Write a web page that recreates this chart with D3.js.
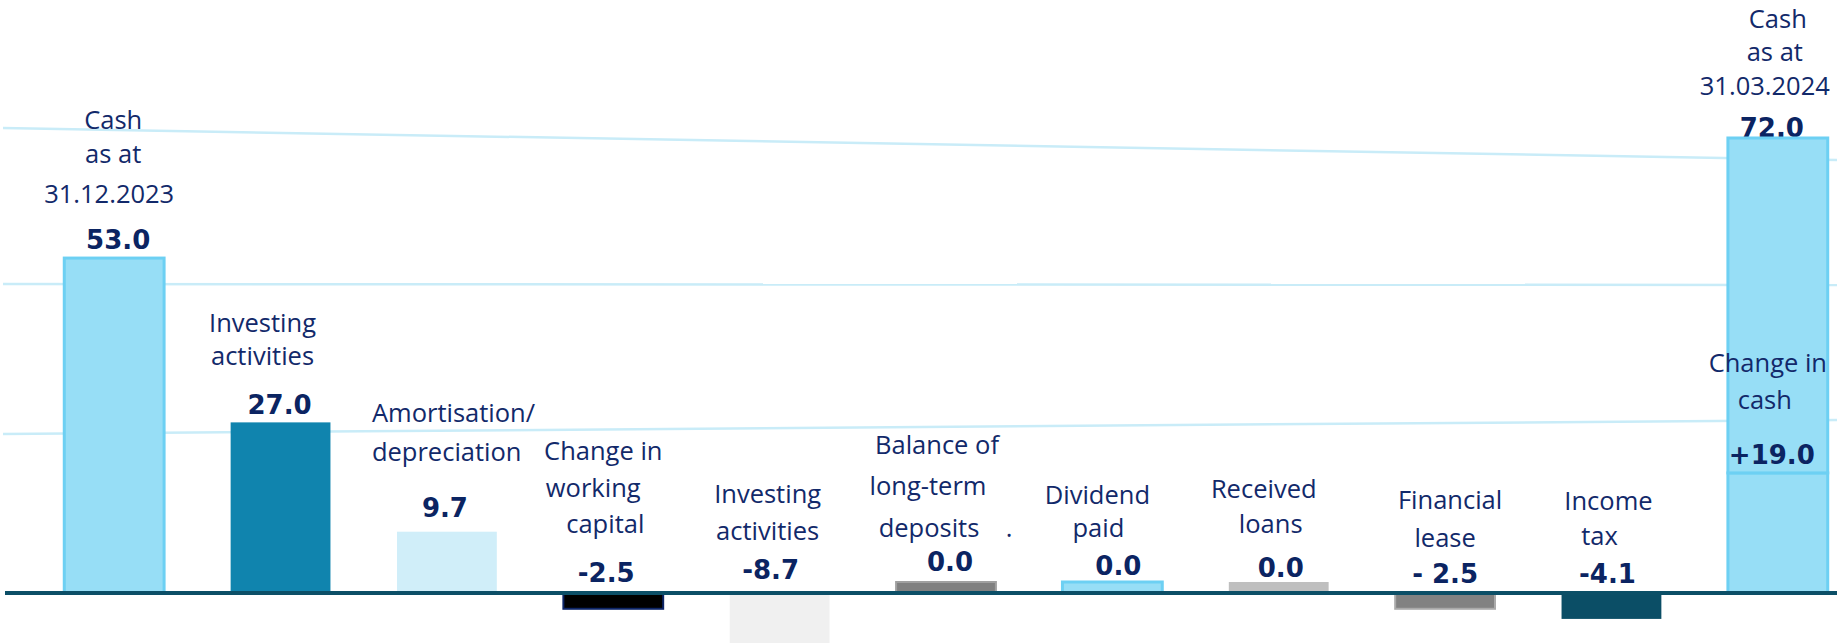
<!DOCTYPE html>
<html>
<head>
<meta charset="utf-8">
<script src="https://cdn.jsdelivr.net/npm/d3@7"></script>
<style>
  body { margin: 0; background: #fff; }
</style>
</head>
<body>
<div id="chart"></div>
<script>
// data
var categories = [
  ["Cash", "as at", "31.12.2023"],
  ["Investing", "activities"],
  ["Amortisation/", "depreciation"],
  ["Change in", "working", "capital"],
  ["Investing", "activities"],
  ["Balance of", "long-term", "deposits"],
  ["Dividend", "paid"],
  ["Received", "loans"],
  ["Financial", "lease"],
  ["Income", "tax"],
  ["Cash", "as at", "31.03.2024"]
]
var values = [53.0, 27.0, 9.7, -2.5, -8.7, 0.0, 0.0, 0.0, -2.5, -4.1, 72.0]
var valueLabels = ["53.0", "27.0", "9.7", "-2.5", "-8.7", "0.0", "0.0", "0.0", "- 2.5", "-4.1", "72.0"]
// last bar split: change in cash at the bottom, opening cash on top
var closingParts = [19.0, 53.0]
var closingLabel = ["Change in", "cash"]
var closingValueLabel = "+19.0"
var gridValues = [25, 50, 75]

// styles
var width = 1837,
    height = 643
var barFill = ["#97def6", "#1084ae", "#d0eef9", "#000000", "#f0f0f0", "#808080", "#97def6", "#bfbfbf", "#828282", "#0b4e66", "#97def6"]
var barStroke = ["#6dd0f3", "none", "none", "#0c2466", "none", "#a0a0a0", "#6dd0f3", "none", "#aaaaaa", "none", "#6dd0f3"]
var barStrokeW = [3, 0, 0, 2, 0, 2, 3, 0, 2, 0, 3]
var zeroStub = 11
// label placement, relative to the bar centre and the value label baseline
var valueGap = [9, 8, 15, 11, 14, 11, 7, 5, 10, 10, 1]
var valueDx = [4, -1, -2, -7, -9, 4, 6, 2, 0, -4, -6]
var lineDy = [[-120, -86, -46], [-82, -49], [-95, -56], [-122, -85, -49], [-76, -39],
              [-117, -76, -34], [-71, -38], [-79, -44], [-74, -36], [-73, -38], [-109, -76, -42]]
var lineDx = [[-1, -1, -5], [-18, -18], [-75, -75], [-10, -20, -8], [-12, -12],
              [-9, -18, -17], [-15, -14], [-15, -8], [5, 0], [-3, -12], [0, -3, -13]]
var lineAnchor = ["middle", "middle", "start", "middle", "middle", "middle", "middle", "middle", "middle", "middle", "middle"]
// the grid lines in the original are slightly tilted: offset at left / right end
var gridTilt = [[-1, -15], [7, 8], [9, 41]]

var labelColor = "#12296a",
    valueColor = "#0b2462"
var labelFont = "'Open Sans', sans-serif",
    valueFont = "'DejaVu Sans', sans-serif"

var svg = d3.select("#chart")
    .append("svg")
    .attr("width", width)
    .attr("height", height)
    .style("background", "#fff")

var x = d3.scaleBand()
    .domain(d3.range(values.length))
    .range([31, 1861])
    .paddingInner(0.4)
    .paddingOuter(0.2)

var y = d3.scaleLinear()
    .domain([0, 72])
    .range([593, 138])

var cx = function(i) { return x(i) + x.bandwidth() / 2 }

// grid lines
svg.append("g")
  .selectAll("line")
  .data(gridValues)
  .join("line")
    .attr("x1", 3)
    .attr("x2", width)
    .attr("y1", function(d, i) { return y(d) + gridTilt[i][0] })
    .attr("y2", function(d, i) { return y(d) + gridTilt[i][1] })
    .attr("stroke", "#c9ecf8")
    .attr("stroke-width", 2.5)

// top of what each value label sits on
function anchorY(i) {
  var v = values[i]
  if (v > 0) return y(v)
  if (v === 0) return y(0) - zeroStub
  return y(0)
}
function valueBase(i) { return anchorY(i) - valueGap[i] }

// value labels (drawn before bars, the closing bar covers its label a bit)
svg.append("g")
  .selectAll("text")
  .data(values)
  .join("text")
    .attr("x", function(d, i) { return cx(i) + valueDx[i] })
    .attr("y", function(d, i) { return valueBase(i) })
    .attr("text-anchor", "middle")
    .style("font-family", valueFont)
    .style("font-weight", "bold")
    .style("font-size", "26px")
    .style("fill", valueColor)
    .text(function(d, i) { return valueLabels[i] })

// bars
var last = values.length - 1
var bars = svg.append("g")
bars.selectAll("rect")
  .data(values.slice(0, last))
  .join("rect")
    .attr("x", function(d, i) { return x(i) })
    .attr("width", x.bandwidth())
    .attr("y", function(d) { return d > 0 ? y(d) : d === 0 ? y(0) - zeroStub : y(0) })
    .attr("height", function(d) { return d === 0 ? zeroStub : Math.abs(y(d) - y(0)) })
    .attr("fill", function(d, i) { return barFill[i] })
    .attr("stroke", function(d, i) { return barStroke[i] })
    .attr("stroke-width", function(d, i) { return barStrokeW[i] })

// closing cash, stacked
var stack = []
var acc = 0
closingParts.forEach(function(p) { stack.push([acc, acc + p]); acc += p })
bars.selectAll("rect.closing")
  .data(stack)
  .join("rect")
    .attr("class", "closing")
    .attr("x", x(last))
    .attr("width", x.bandwidth())
    .attr("y", function(d) { return y(d[1]) })
    .attr("height", function(d) { return y(d[0]) - y(d[1]) })
    .attr("fill", barFill[last])
    .attr("stroke", barStroke[last])
    .attr("stroke-width", barStrokeW[last])

// axis line
svg.append("line")
    .attr("x1", 5)
    .attr("x2", width)
    .attr("y1", y(0))
    .attr("y2", y(0))
    .attr("stroke", "#0c4f67")
    .attr("stroke-width", 4)

// category labels
var catG = svg.append("g")
categories.forEach(function(lines, i) {
  catG.selectAll(null)
    .data(lines)
    .enter()
    .append("text")
      .attr("x", function(d, j) { return cx(i) + lineDx[i][j] })
      .attr("y", function(d, j) { return valueBase(i) + lineDy[i][j] })
      .attr("text-anchor", lineAnchor[i])
      .style("font-family", labelFont)
      .style("font-size", "25.5px")
      .style("fill", labelColor)
      .text(function(d) { return d })
})
// stray dot next to "deposits" in the original
catG.append("text")
    .attr("x", cx(5) + 63)
    .attr("y", valueBase(5) - 34)
    .attr("text-anchor", "middle")
    .style("font-family", labelFont)
    .style("font-size", "25.5px")
    .style("fill", labelColor)
    .text(".")

// change in cash label inside the closing bar
var segBase = y(closingParts[0]) - 9
catG.selectAll(null)
  .data(closingLabel)
  .enter()
  .append("text")
    .attr("x", function(d, j) { return cx(last) + [-10, -13][j] })
    .attr("y", function(d, j) { return segBase + [-92, -55][j] })
    .attr("text-anchor", "middle")
    .style("font-family", labelFont)
    .style("font-size", "25.5px")
    .style("fill", labelColor)
    .text(function(d) { return d })
catG.append("text")
    .attr("x", cx(last) - 6)
    .attr("y", segBase)
    .attr("text-anchor", "middle")
    .style("font-family", valueFont)
    .style("font-weight", "bold")
    .style("font-size", "26px")
    .style("fill", valueColor)
    .text(closingValueLabel)
</script>
</body>
</html>
